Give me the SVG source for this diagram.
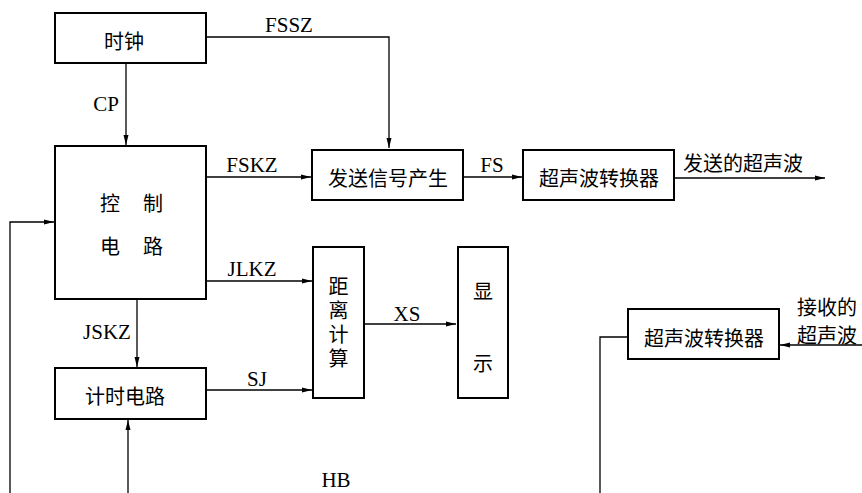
<svg xmlns="http://www.w3.org/2000/svg" width="862" height="493" viewBox="0 0 862 493">
<defs>
<style>
.box{fill:#fff;stroke:#000;stroke-width:2}
.ln{fill:none;stroke:#000;stroke-width:1.3}
.cn{font-family:"Noto Sans CJK SC","Noto Sans",sans-serif;font-size:20px;fill:#000;dominant-baseline:central}
.vt{font-family:"Noto Sans CJK SC","Noto Sans",sans-serif;font-size:20px;fill:#000;writing-mode:vertical-rl;letter-spacing:4.3px}
.lb{font-family:"Liberation Serif","Times New Roman",serif;font-size:21px;fill:#000}
</style>
<marker id="ah" viewBox="0 0 10 6" refX="10" refY="3" markerWidth="10" markerHeight="6" markerUnits="userSpaceOnUse" orient="auto">
<path d="M0,0.5 L10,3 L0,5.5 z" fill="#000"/>
</marker>
</defs>
<rect width="862" height="493" fill="#fff"/>
<g id="connectors">
<path class="ln" d="M206,37 H389 V148" marker-end="url(#ah)"/>
<path class="ln" d="M126,63 V145" marker-end="url(#ah)"/>
<path class="ln" d="M206,177 H311" marker-end="url(#ah)"/>
<path class="ln" d="M463,177 H522" marker-end="url(#ah)"/>
<path class="ln" d="M674,178 H825" marker-end="url(#ah)"/>
<path class="ln" d="M206,281 H312" marker-end="url(#ah)"/>
<path class="ln" d="M206,390 H312" marker-end="url(#ah)"/>
<path class="ln" d="M137,299 V367" marker-end="url(#ah)"/>
<path class="ln" d="M364,324 H456" marker-end="url(#ah)"/>
<path class="ln" d="M10,493 V222 H54" marker-end="url(#ah)"/>
<path class="ln" d="M128,493 V420" marker-end="url(#ah)"/>
<path class="ln" d="M628,337 H600 V493"/>
<path class="ln" d="M862,345 H780" marker-end="url(#ah)"/>
<text class="lb" x="289" y="32" text-anchor="middle">FSSZ</text>
<text class="lb" x="106" y="111" text-anchor="middle">CP</text>
<text class="lb" x="252" y="172" text-anchor="middle">FSKZ</text>
<text class="lb" x="492" y="172" text-anchor="middle">FS</text>
<text class="cn" x="683" y="162">发送的超声波</text>
<text class="lb" x="252" y="276" text-anchor="middle">JLKZ</text>
<text class="lb" x="107" y="339" text-anchor="middle">JSKZ</text>
<text class="lb" x="257" y="386" text-anchor="middle">SJ</text>
<text class="lb" x="407" y="321" text-anchor="middle">XS</text>
<text class="lb" x="336" y="487" text-anchor="middle">HB</text>
<text class="cn" x="827" y="306" text-anchor="middle" font-size="19">接收的</text>
<text class="cn" x="827" y="334" text-anchor="middle" font-size="19">超声波</text>
</g>
<g id="clock">
<rect class="box" x="55" y="13" width="151" height="50"/>
<text class="cn" x="124" y="40" text-anchor="middle">时钟</text>
</g>
<g id="control">
<rect class="box" x="55" y="146" width="151" height="153"/>
<text class="cn" x="110" y="202" text-anchor="middle">控</text>
<text class="cn" x="153" y="202" text-anchor="middle">制</text>
<text class="cn" x="110" y="245" text-anchor="middle">电</text>
<text class="cn" x="153" y="245" text-anchor="middle">路</text>
</g>
<g id="sendgen">
<rect class="box" x="312" y="150" width="151" height="50"/>
<text class="cn" x="388" y="177" text-anchor="middle">发送信号产生</text>
</g>
<g id="tx">
<rect class="box" x="523" y="150" width="151" height="50"/>
<text class="cn" x="599" y="177" text-anchor="middle">超声波转换器</text>
</g>
<g id="timer">
<rect class="box" x="55" y="368" width="151" height="51"/>
<text class="cn" x="125" y="395" text-anchor="middle">计时电路</text>
</g>
<g id="calc">
<rect class="box" x="313" y="247" width="51" height="151"/>
<text class="vt" x="338.5" y="276">距离计算</text>
</g>
<g id="display">
<rect class="box" x="458" y="247" width="50" height="151"/>
<text class="cn" x="483" y="290" text-anchor="middle">显</text>
<text class="cn" x="483" y="362" text-anchor="middle">示</text>
</g>
<g id="rx">
<rect class="box" x="628" y="309" width="151" height="50"/>
<text class="cn" x="704" y="337" text-anchor="middle">超声波转换器</text>
</g>
</svg>
